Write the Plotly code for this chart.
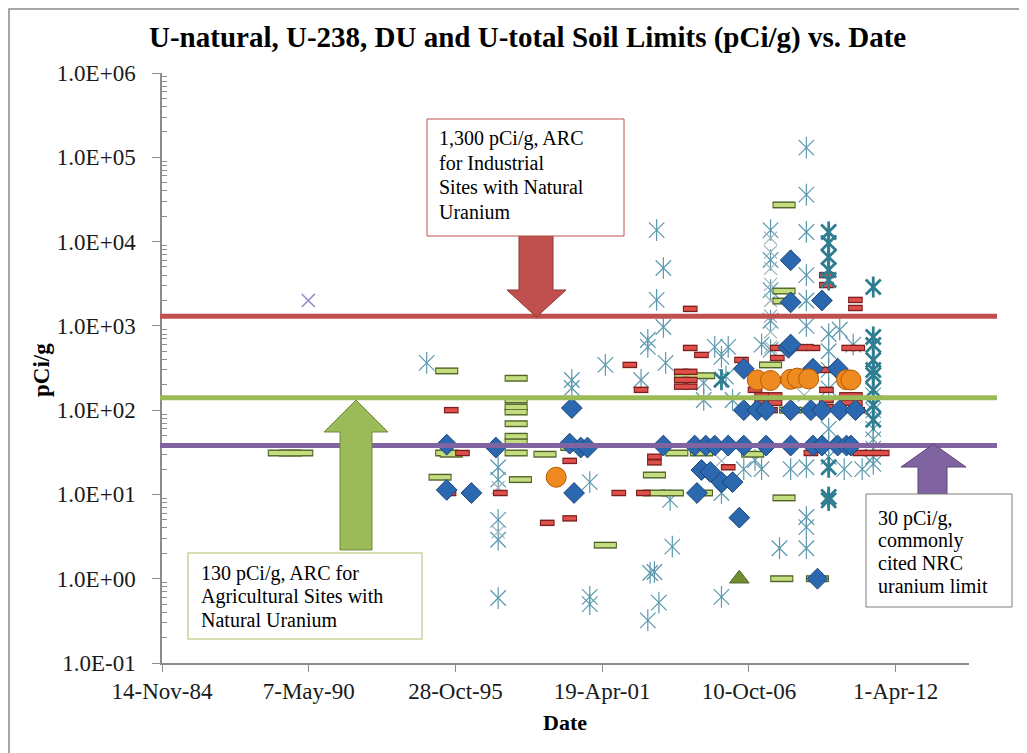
import plotly.graph_objects as go

# ----------------------------- data -----------------------------
TITLE = "U-natural, U-238, DU and U-total Soil Limits (pCi/g) vs. Date"
X_TITLE = "Date"
Y_TITLE = "pCi/g"

X_TICK_DATES = ["1984-11-14", "1990-05-07", "1995-10-28", "2001-04-19", "2006-10-10", "2012-04-01"]
X_TICK_LABELS = ["14-Nov-84", "7-May-90", "28-Oct-95", "19-Apr-01", "10-Oct-06", "1-Apr-12"]
X_RANGE = ["1984-11-14", "2014-12-27"]
Y_TICK_VALUES = [0.1, 1, 10, 100, 1e3, 1e4, 1e5, 1e6]
Y_TICK_LABELS = ["1.0E-01", "1.0E+00", "1.0E+01", "1.0E+02", "1.0E+03", "1.0E+04", "1.0E+05", "1.0E+06"]

# blue diamonds
DIAMOND_DATES = ["1995-07", "1995-07", "1996-06", "1997-05", "2000-03", "2000-02", "2000-07", "2000-10", "2000-04",
                 "2003-08", "2004-10", "2005-03", "2005-07", "2006-01", "2006-08", "2007-06", "2008-05", "2009-03",
                 "2009-07", "2010-02", "2010-06", "2010-08",
                 "2005-01", "2005-05", "2005-10", "2006-03", "2004-11", "2006-06",
                 "2006-08", "2009-03", "2010-02", "2008-04",
                 "2006-08", "2007-02", "2007-06", "2008-05", "2009-02", "2009-07", "2010-03", "2010-10",
                 "2008-05", "2008-05", "2008-05", "2009-07", "2009-05"]
DIAMOND_VALUES = [39, 11.3, 10.4, 36, 106, 40, 36, 36, 10.4,
                  38, 38, 38, 38, 38, 38, 38, 38, 38,
                  38, 38, 38, 38,
                  19.5, 18.5, 14, 14, 10.4, 5.3,
                  310, 310, 310, 550,
                  100, 100, 100, 100, 100, 100, 100, 100,
                  6000, 1900, 600, 2000, 1.0]

# small red dashes
RED_DATES = ["1995-09", "1996-02", "1995-08", "1997-07", "1999-04", "2000-02", "2000-02",
             "2002-05", "2002-10", "2001-12", "2002-11",
             "2004-08", "2004-08", "2005-01",
             "2004-04", "2004-04", "2004-04", "2004-08", "2004-08", "2004-08",
             "2006-07", "2007-01", "2007-02", "2007-08",
             "2007-11", "2007-11", "2007-11", "2008-09", "2009-03",
             "2009-09", "2009-09", "2009-09", "2009-09",
             "2010-07", "2010-11", "2010-11",
             "2009-02", "2010-12", "2011-05", "2011-10",
             "2003-04", "2003-04", "2006-01",
             "2009-09", "2009-09", "2010-10", "2010-10", "2008-12",
             "2007-04", "2007-04", "2007-10", "2007-10",
             "2010-06", "2010-06", "2010-10", "2010-10"]
RED_VALUES = [100, 31, 10.4, 10.4, 4.6, 5.2, 25,
              344, 174, 10.4, 10.4,
              1590, 547, 452,
              285, 228, 190, 285, 228, 190,
              394, 174, 100, 100,
              228, 416, 547, 547, 547,
              174, 132, 109, 300,
              547, 547, 100,
              31, 31, 31, 31,
              28, 24, 21,
              4000, 3050, 2030, 1630, 560,
              150, 122, 150, 122,
              150, 122, 150, 122]

# larger green dashes
GREEN_DATES = ["1989-04", "1989-09", "1990-02",
               "1995-07", "1995-07", "1995-09", "1995-04",
               "1998-02", "1998-02", "1998-02", "1998-02", "1998-02", "1998-02", "1998-02", "1998-02",
               "1998-04", "1999-03", "2000-03", "2001-06",
               "2003-04", "2003-04", "2003-12", "2005-01",
               "2004-02", "2005-01", "2006-12",
               "2004-06", "2005-02", "2007-08", "2008-05", "2008-02",
               "2008-01", "2009-05",
               "2008-02", "2008-02", "2008-02"]
GREEN_VALUES = [31, 31, 31,
                292, 31, 30, 16,
                239, 132, 109, 95, 69, 49, 42, 31,
                15, 30, 36, 2.5,
                17, 10.4, 10.4, 10.4,
                31, 31, 30,
                256, 256, 344, 100, 9.1,
                1.0, 1.0,
                27200, 2590, 1970]

# orange circles
ORANGE_DATES = ["1999-08", "2007-02", "2007-08", "2008-05", "2008-08", "2009-01", "2010-06", "2010-08"]
ORANGE_VALUES = [16, 228, 225, 232, 240, 235, 230, 228]

# light teal asterisks
STAR_DATES = ["1994-10",
              "1997-06", "1997-06", "1997-06", "1997-06", "1997-06",
              "2000-03", "2000-03", "2000-11", "2000-11", "2000-11",
              "2001-06", "2002-10",
              "2003-02", "2003-01", "2003-01", "2003-01",
              "2003-05", "2003-05", "2003-08", "2003-08", "2003-09",
              "2005-02", "2005-02", "2005-07", "2006-01", "2005-10", "2005-12", "2006-03",
              "2007-01", "2008-12", "2003-11", "2005-10", "2003-12",
              "2007-12", "2008-12", "2008-12", "2008-12",
              "2003-04", "2003-06", "2005-10",
              "2008-12", "2008-12", "2008-12", "2008-12", "2008-12", "2008-12",
              "2007-08", "2007-08", "2007-08", "2007-08", "2007-08",
              "2006-08", "2007-04", "2008-05", "2010-05", "2011-01",
              "2007-04", "2010-03", "2010-09",
              "2011-06", "2011-06", "2011-06", "2011-06", "2011-06",
              "2009-10", "2009-10", "2009-10", "2009-10", "2009-10", "2009-10", "2009-10",
              "2011-06", "2011-06"]
STAR_VALUES = [363,
               21, 15, 5, 2.9, 0.59,
               228, 183, 14, 0.61, 0.5,
               344, 228,
               1.17, 0.32, 562, 680,
               13700, 2030, 4860, 970, 363,
               211, 132, 562, 562, 428, 250, 132,
               25.6, 21, 8.6, 10.4, 2.4,
               2.3, 2.3, 5.4, 4.1,
               1.2, 0.52, 0.61,
               130000, 36000, 13000, 4000, 2000, 1000,
               13700, 6050, 2660, 1150, 518,
               20, 20, 20, 20, 20,
               600, 900, 600,
               60, 45, 35, 28, 23,
               800, 500, 300, 180, 60, 40, 28,
               150, 100]

# dark teal (bold) asterisks
BOLD_STAR_DATES = ["2009-10", "2009-10", "2009-10", "2009-10", "2009-10", "2009-10", "2009-10", "2009-10",
                   "2011-06", "2011-06", "2011-06", "2011-06", "2011-06", "2011-06", "2011-06", "2011-06", "2011-06",
                   "2005-10"]
BOLD_STAR_VALUES = [13000, 9600, 6560, 4600, 3500, 9.3, 8.5, 21,
                    2890, 738, 593, 394, 300, 262, 174, 115, 77,
                    230]

# light grey crosses
CROSS_DATES = ["2007-08", "2007-08", "2007-08", "2007-08", "2007-08", "2007-08", "2007-08", "2007-08",
               "1997-06", "1997-06", "2007-03", "2008-11", "2005-10"]
CROSS_VALUES = [11000, 7500, 4800, 3100, 2000, 1300, 850, 560,
                3.6, 12, 230, 150, 25]

# lavender cross and green triangle
LAV_DATES = ["1990-05"]
LAV_VALUES = [2000]
TRI_DATES = ["2006-06"]
TRI_VALUES = [1.0]

# horizontal limit lines (as drawn)
LIMIT_VALUES = [1300, 140, 38]
LIMIT_COLORS = ["#c0504d", "#9bbb59", "#8064a2"]

# --------------------------- geometry ---------------------------
W, H = 1027, 753
OFF = 8                              # page body margin
PL, PR, PT, PB = 162, 969, 73, 663   # plot-area edges in page pixels


def xp(px):
    return (px - PL) / (PR - PL)


def yp(py):
    return (PB - py) / (PB - PT)


FONT = "Liberation Serif"

fig = go.Figure()


def add(dates, vals, **marker):
    fig.add_trace(go.Scatter(x=dates, y=vals, mode="markers", marker=marker,
                             hoverinfo="skip", showlegend=False))


# asterisks (X + vertical bar)
for sym in ("x-thin", "line-ns"):
    add(STAR_DATES, STAR_VALUES, symbol=sym, size=15.5, line=dict(color="#5b98ae", width=1.2))
add(CROSS_DATES, CROSS_VALUES, symbol="x-thin", size=13, line=dict(color="#9fb2bd", width=1.2))
# green dashes (outline + fill)
add(GREEN_DATES, GREEN_VALUES, symbol="line-ew", size=16.5, line=dict(color="#4f6228", width=7))
add(GREEN_DATES, GREEN_VALUES, symbol="line-ew", size=15, line=dict(color="#c4dd7e", width=4.2))
# red dashes
add(RED_DATES, RED_VALUES, symbol="line-ew", size=10.5, line=dict(color="#7b1f1c", width=6.5))
add(RED_DATES, RED_VALUES, symbol="line-ew", size=9, line=dict(color="#e0504b", width=3.8))
# blue diamonds
add(DIAMOND_DATES, DIAMOND_VALUES, symbol="diamond", size=16, color="#2c68b0",
    line=dict(color="#1c4578", width=1))
# orange circles
add(ORANGE_DATES, ORANGE_VALUES, symbol="circle", size=20, color="#ee8a1f",
    line=dict(color="#b55a00", width=1))
# bold teal asterisks
for sym in ("x-thin", "line-ns"):
    add(BOLD_STAR_DATES, BOLD_STAR_VALUES, symbol=sym, size=15, line=dict(color="#2e7d90", width=2.8))
# lavender cross
add(LAV_DATES, LAV_VALUES, symbol="x-thin", size=13, line=dict(color="#8e8cc8", width=1.6))
# green triangle
add(TRI_DATES, TRI_VALUES, symbol="triangle-up", size=17, color="#6f8f2e",
    line=dict(color="#4f6228", width=1))

shapes = []
# chart border (left & top visible)
shapes.append(dict(type="rect", xref="paper", yref="paper", x0=xp(9), x1=xp(1060), y0=yp(790), y1=yp(9),
                   line=dict(color="#8a8a8a", width=1.5), fillcolor="rgba(0,0,0,0)", layer="below"))
# limit lines
for v, c in zip(LIMIT_VALUES, LIMIT_COLORS):
    shapes.append(dict(type="line", xref="paper", yref="y", x0=xp(160), x1=xp(997),
                       y0=v, y1=v, line=dict(color=c, width=5), layer="above"))


def poly(pts):
    return "M " + " L ".join(f"{xp(a):.5f},{yp(b):.5f}" for a, b in pts) + " Z"


# red down arrow
shapes.append(dict(type="path", xref="paper", yref="paper",
                   path=poly([(519, 236), (553, 236), (553, 290), (566, 290), (536.5, 317), (507, 290), (519, 290)]),
                   fillcolor="#c0504d", line=dict(color="#8c3836", width=1)))
# green up arrow
shapes.append(dict(type="path", xref="paper", yref="paper",
                   path=poly([(340, 550), (372, 550), (372, 432), (388, 432), (356, 400), (324, 432), (340, 432)]),
                   fillcolor="#9bbb59", line=dict(color="#71893f", width=1)))
# purple up arrow
shapes.append(dict(type="path", xref="paper", yref="paper",
                   path=poly([(918, 494), (947, 494), (947, 467), (966, 467), (933.5, 444), (901, 467), (918, 467)]),
                   fillcolor="#8064a2", line=dict(color="#5c4776", width=1)))
# text boxes
shapes.append(dict(type="rect", xref="paper", yref="paper", x0=xp(427), x1=xp(624), y0=yp(236), y1=yp(119),
                   line=dict(color="#c0504d", width=1), fillcolor="white"))
shapes.append(dict(type="rect", xref="paper", yref="paper", x0=xp(188), x1=xp(422), y0=yp(639), y1=yp(553),
                   line=dict(color="#c3d69b", width=1.5), fillcolor="white"))
shapes.append(dict(type="rect", xref="paper", yref="paper", x0=xp(866), x1=xp(1012), y0=yp(607), y1=yp(494),
                   line=dict(color="#7f7f7f", width=1), fillcolor="white"))

annotations = []


def text(s, px, py, size=20, anchor="left", bold=False, angle=0):
    annotations.append(dict(text=f"<b>{s}</b>" if bold else s, xref="paper", yref="paper",
                            x=xp(px), y=yp(py), xanchor=anchor, yanchor="middle", showarrow=False,
                            textangle=angle, font=dict(family=FONT, size=size, color="#000000")))


BOX_RED = ["1,300 pCi/g, ARC", "for Industrial", "Sites with Natural", "Uranium"]
BOX_GREEN = ["130 pCi/g, ARC for", "Agricultural Sites with", "Natural Uranium"]
BOX_PURPLE = ["30 pCi/g,", "commonly", "cited NRC", "uranium limit"]
for i, s in enumerate(BOX_RED):
    text(s, 437, 138 + 24.5 * i)
for i, s in enumerate(BOX_GREEN):
    text(s, 199, 573 + 23.5 * i)
for i, s in enumerate(BOX_PURPLE):
    text(s, 876, 518 + 22.7 * i)

text(TITLE, 527, 37, size=29, anchor="center", bold=True)
text(X_TITLE, 565, 722, size=22, anchor="center", bold=True)
text(Y_TITLE, 42, 370, size=23, anchor="center", bold=True, angle=-90)

AXIS_GREY = "#8c8c8c"
minor_vals = [m * 10 ** k for k in range(-1, 6) for m in range(2, 10)]

fig.update_layout(
    width=W, height=H, autosize=False,
    margin=dict(l=PL - OFF, r=W - PR + OFF, t=PT - OFF, b=H - PB + OFF, pad=0),
    paper_bgcolor="white", plot_bgcolor="white", showlegend=False,
    font=dict(family=FONT, color="#000000"),
    shapes=shapes, annotations=annotations,
    xaxis=dict(type="date", range=X_RANGE, tickmode="array", tickvals=X_TICK_DATES, ticktext=X_TICK_LABELS,
               ticks="outside", ticklen=7, tickcolor=AXIS_GREY, tickwidth=1,
               showline=True, linecolor=AXIS_GREY, linewidth=1.5, showgrid=False, zeroline=False,
               automargin=False,
               tickfont=dict(family=FONT, size=23, color="#1a1a1a")),
    yaxis=dict(type="log", range=[-1, 6], tickmode="array", tickvals=Y_TICK_VALUES, ticktext=Y_TICK_LABELS,
               ticks="outside", ticklen=8, tickcolor=AXIS_GREY, tickwidth=1,
               showline=True, linecolor=AXIS_GREY, linewidth=1.5, showgrid=False, zeroline=False,
               ticklabelstandoff=12, automargin=False,
               minor=dict(tickmode="array", tickvals=minor_vals, ticks="inside", ticklen=5,
                          tickcolor=AXIS_GREY, showgrid=False),
               tickfont=dict(family=FONT, size=23, color="#1a1a1a")),
)

fig.write_html("out.html")
